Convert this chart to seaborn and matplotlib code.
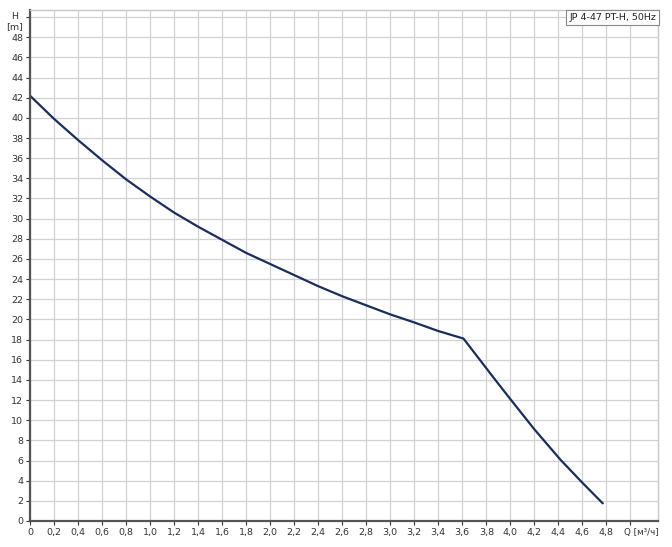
import matplotlib
matplotlib.use('agg')
import matplotlib.pyplot as plt
import matplotlib.transforms as mtransforms
import seaborn as sns
import numpy as np

# pump curve JP 4-47 PT-H, 50Hz
flow = [0.0, 0.2, 0.4, 0.6, 0.8, 1.0, 1.2, 1.4, 1.6, 1.8, 2.0, 2.2, 2.4,
        2.6, 2.8, 3.0, 3.2, 3.4, 3.61, 3.875, 4.0, 4.2, 4.42, 4.6, 4.77]
head = [42.2, 39.9, 37.8, 35.8, 33.9, 32.2, 30.6, 29.2, 27.9, 26.6, 25.5, 24.4, 23.3,
        22.3, 21.4, 20.5, 19.7, 18.85, 18.1, 14.0, 12.1, 9.1, 6.05, 3.8, 1.75]
curve_label = "JP 4-47 PT-H, 50Hz"

xticks = np.round(np.arange(0, 5.01, 0.2), 1)
yticks = np.arange(0, 51, 2)
xticklabels = ["0" if v == 0 else f"{v:.1f}".replace(".", ",") for v in xticks[:-1]] + ["Q [м³/ч]"]
yticklabels = [str(v) for v in yticks[:-1]] + ["H\n[m]"]

sns.set_style("whitegrid")
plt.rcParams['font.family'] = ['DejaVu Sans']

fig = plt.figure(figsize=(6.72, 5.47), dpi=100)
ax = fig.add_axes([30 / 672, 26 / 547, 628 / 672, 511 / 547])

sns.lineplot(x=flow, y=head, sort=False, color="#1b2d5b", lw=1.6, ax=ax)

ax.set_xlim(0, 5.23)
ax.set_ylim(0, 50.7)
ax.set_xticks(xticks)
ax.set_xticklabels(xticklabels)
ax.set_yticks(yticks)
ax.set_yticklabels(yticklabels, multialignment="center")
ax.tick_params(axis="both", labelsize=6.8, colors="#333333", length=3, width=0.8,
               direction="out", pad=2, left=True, bottom=True)
ax.grid(True, color="#d2d2d2", lw=0.9)
ax.set_facecolor("white")
for side in ["left", "bottom"]:
    ax.spines[side].set_color("#555555")
    ax.spines[side].set_linewidth(1.6)
for side in ["top", "right"]:
    ax.spines[side].set_color("#c8c8c8")
    ax.spines[side].set_linewidth(1.0)

# unit labels sit to the right of / below their tick like in the original
qlab = ax.get_xticklabels()[-1]
qlab.set_ha("left")
qlab.set_fontsize(6.3)
qlab.set_transform(qlab.get_transform() + mtransforms.ScaledTranslation(-6 / 100, 0, fig.dpi_scale_trans))
hlab = ax.get_yticklabels()[-1]
hlab.set_transform(hlab.get_transform() + mtransforms.ScaledTranslation(0, -3 / 100, fig.dpi_scale_trans))

ax.text(0.997, 0.994, curve_label, transform=ax.transAxes, ha="right", va="top",
        fontsize=6.8, color="#222222",
        bbox=dict(boxstyle="square,pad=0.3", fc="white", ec="#888888", lw=0.8))

fig.savefig("out.png", dpi=100)
